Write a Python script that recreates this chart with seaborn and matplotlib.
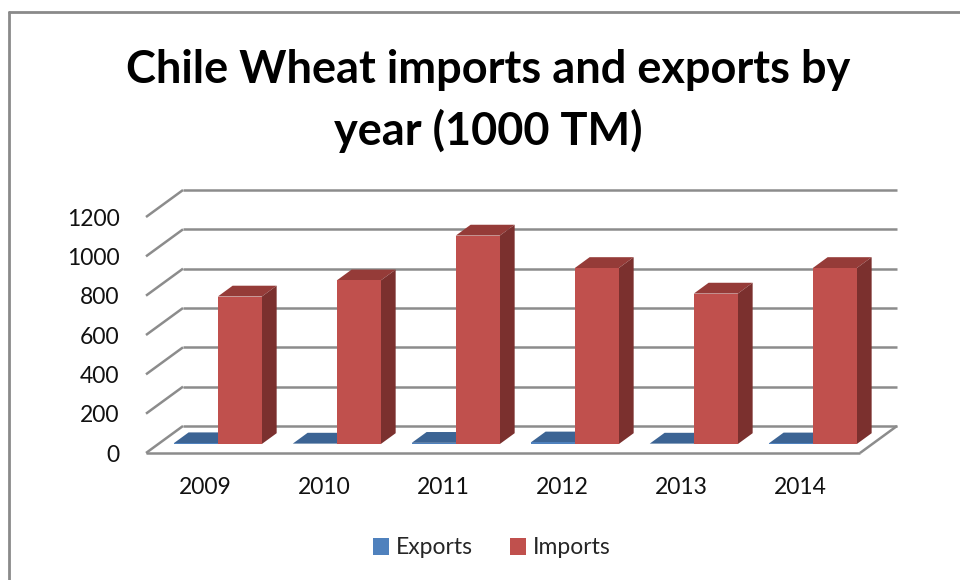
import matplotlib
matplotlib.use("Agg")
import matplotlib.pyplot as plt
from matplotlib.patches import Polygon, Rectangle
from matplotlib.lines import Line2D
import seaborn as sns
import pandas as pd
import numpy as np

# Chile wheat trade, thousand tonnes
years = ["2009", "2010", "2011", "2012", "2013", "2014"]
exports = [4, 2, 6, 8, 2, 3]
imports = [750, 832, 1060, 895, 765, 895]
series = ["Exports", "Imports"]
y_ticks = [0, 200, 400, 600, 800, 1000, 1200]

title = "Chile Wheat imports and exports by\nyear (1000 TM)"

front_colors = {"Exports": "#4F81BD", "Imports": "#C0504D"}
top_colors = {"Exports": "#3C6494", "Imports": "#953B38"}
side_colors = {"Exports": "#2E4D73", "Imports": "#7B302E"}

# oblique projection of the depth axis: categories in x, value units in y
DEPTH_X = 0.311
DEPTH_Y = 137.4
BAR_FRONT = 0.333   # depth at which bar front faces sit
BAR_DEPTH = 0.40    # depth of each bar

df = pd.DataFrame({
    "year": years * 2,
    "series": ["Exports"] * len(years) + ["Imports"] * len(years),
    "value": exports + imports,
})

sns.set_theme(style="white")
plt.rcParams["font.family"] = ["Lato", "DejaVu Sans"]

fig = plt.figure(figsize=(9.6, 5.8), dpi=100)
W, H = 960, 580
ax = fig.add_axes([146 / W, (H - 453) / H, (897 - 146) / W, (453 - 190) / H])

sns.barplot(data=df, x="year", y="value", hue="series", hue_order=series,
            palette=front_colors, width=0.74, saturation=1, legend=False,
            ax=ax, zorder=5)

n = len(years)
xl, xr = -0.5, n - 0.5
ax.set_xlim(xl, xr + DEPTH_X)
ax.set_ylim(0, y_ticks[-1] + DEPTH_Y)

grid_kw = dict(color="#8C8C8C", lw=1.8, zorder=1, clip_on=False, solid_capstyle="butt")
for v in y_ticks:
    ax.plot([xl + DEPTH_X, xr + DEPTH_X], [v + DEPTH_Y, v + DEPTH_Y], **grid_kw)
    ax.plot([xl, xl + DEPTH_X], [v, v + DEPTH_Y], **grid_kw)
# floor front and right edges
ax.plot([xl, xr], [0, 0], **grid_kw)
ax.plot([xr, xr + DEPTH_X], [0, DEPTH_Y], **grid_kw)

# give each seaborn bar a top and a side face
bars = list(ax.patches)
for k, bar in enumerate(bars):
    name = series[k // n]
    cat = k % n
    x0 = bar.get_x() + BAR_FRONT * DEPTH_X
    w = bar.get_width()
    h = bar.get_height()
    y0 = BAR_FRONT * DEPTH_Y
    dx, dy = BAR_DEPTH * DEPTH_X, BAR_DEPTH * DEPTH_Y
    z = 5 + cat * 3 + (k // n) * 1.5
    bar.set_x(x0)
    bar.set_y(y0)
    bar.set_edgecolor("none")
    bar.set_zorder(z + 0.2)
    top = Polygon([(x0, y0 + h), (x0 + w, y0 + h), (x0 + w + dx, y0 + h + dy),
                   (x0 + dx, y0 + h + dy)], closed=True,
                  facecolor=top_colors[name], edgecolor="none", zorder=z)
    side = Polygon([(x0 + w, y0), (x0 + w + dx, y0 + dy), (x0 + w + dx, y0 + h + dy),
                    (x0 + w, y0 + h)], closed=True,
                   facecolor=side_colors[name], edgecolor="none", zorder=z)
    ax.add_patch(top)
    ax.add_patch(side)

ax.set_yticks(y_ticks)
ax.set_yticklabels([str(v) for v in y_ticks])
ax.set_xticks(range(n))
ax.set_xticklabels(years)
ax.set_xlabel("")
ax.set_ylabel("")
ax.tick_params(axis="both", length=0, labelsize=16.5, colors="#111111")
ax.tick_params(axis="y", pad=19)
ax.tick_params(axis="x", pad=17)
for s in ax.spines.values():
    s.set_visible(False)
ax.patch.set_visible(False)

fig.text(488 / W, 1 - 101 / H, title, ha="center", va="center",
         fontsize=32.5, fontweight="bold", color="black", linespacing=1.47)

handles = [Rectangle((0, 0), 1, 1, facecolor=front_colors[s], edgecolor="none") for s in series]
fig.legend(handles, series, loc="center", bbox_to_anchor=(492 / W, 1 - 548 / H),
           ncol=2, frameon=False, fontsize=16.5, handlelength=0.7, handleheight=0.7,
           handletextpad=0.3, columnspacing=1.6)

# chart frame
fig.add_artist(Line2D([9 / W, 9 / W], [0, 1 - 12 / H], color="#8A8A8A", lw=2))
fig.add_artist(Line2D([9 / W, 1.0], [1 - 12 / H, 1 - 12 / H], color="#8A8A8A", lw=2))

fig.savefig("out.png", dpi=100)
